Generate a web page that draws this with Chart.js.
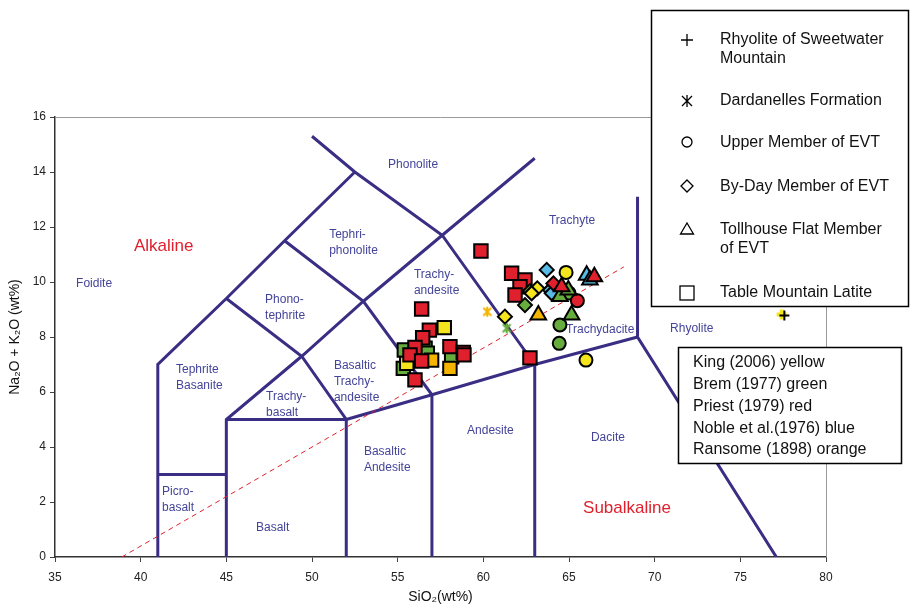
<!DOCTYPE html>
<html>
<head>
<meta charset="utf-8">
<script src="https://cdn.jsdelivr.net/npm/chart.js@4"></script>
<style>
html, body { margin: 0; padding: 0; background: #fff; }
</style>
</head>
<body>
<canvas id="tas" width="910" height="608"></canvas>
<script>
// TAS field boundaries (SiO2, Na2O+K2O)
const boundaries = [
	[[41, 0], [41, 7], [45, 9.4], [48.4, 11.5], [52.5, 14]],
	[[50, 15.3], [52.5, 14], [57.6, 11.7], [63, 7]],
	[[45, 0], [45, 5], [49.4, 7.3], [53, 9.3], [57.6, 11.7], [63, 14.5]],
	[[41, 3], [45, 3]],
	[[45, 5], [52, 5]],
	[[52, 0], [52, 5], [49.4, 7.3], [45, 9.4]],
	[[57, 0], [57, 5.9], [53, 9.3], [48.4, 11.5]],
	[[52, 5], [57, 5.9], [63, 7], [69, 8]],
	[[63, 0], [63, 7]],
	[[69, 13.1], [69, 8], [77.1, 0]]
];
const alkalineLine = [[38.9, 0], [68.2, 10.55]];

// Table Mountain Latite (squares)
const tmlRed = [[56.40, 9.02], [56.85, 8.25], [56.46, 7.97], [56.01, 7.62], [55.72, 7.35], [56.40, 7.13], [56.01, 6.44], [58.05, 7.65], [58.83, 7.44], [58.87, 7.35], [59.86, 11.13], [62.72, 7.24], [61.65, 10.32], [62.43, 10.07], [62.14, 9.83], [61.85, 9.53]];
const tmlYellow = [[57.72, 8.34], [55.53, 7.04]];
const tmlGreen = [[55.39, 7.53], [56.6, 7.59], [56.73, 7.41], [55.33, 6.86], [58.15, 7.28]];
const tmlOrange = [[56.98, 7.16], [58.05, 6.86]];
// By-Day Member (diamonds)
const bdYellow = [[61.26, 8.74], [63.15, 9.77], [62.82, 9.59]];
const bdGreen = [[62.72, 9.67], [62.43, 9.16]];
const bdBlue = [[63.70, 10.44], [63.89, 9.71], [63.99, 9.59]];
const bdRed = [[64.09, 9.95]];
// Upper Member (circles)
const umYellow = [[64.83, 10.35], [65.99, 7.16]];
const umGreen = [[65.0, 9.6], [64.47, 8.44], [64.43, 7.77]];
const umRed = [[65.49, 9.32]];
// Tollhouse Flat Member (triangles)
const tfOrange = [[63.21, 8.80]];
const tfGreen = [[64.47, 9.47], [64.96, 9.71], [65.15, 8.80]];
const tfBlue = [[66.03, 10.25], [66.22, 10.07]];
const tfRed = [[64.57, 9.83], [66.48, 10.19]];
// Dardanelles Formation and Rhyolite of Sweetwater Mountain
const ddOrange = [[60.23, 8.92]];
const ddGreen = [[61.36, 8.32]];
const rsmYellow = [[77.41, 8.82]];
const rsmBlack = [[77.57, 8.78]];

const fieldNames = [
	{ text: ["Phonolite"], x: 54.44, y: 14.25 },
	{ text: ["Tephri-", "phonolite"], x: 51.0, y: 11.44 },
	{ text: ["Trachy-", "andesite"], x: 55.95, y: 9.96 },
	{ text: ["Trachyte"], x: 63.83, y: 12.22 },
	{ text: ["Foidite"], x: 36.23, y: 9.93 },
	{ text: ["Phono-", "tephrite"], x: 47.26, y: 9.07 },
	{ text: ["Tephrite", "Basanite"], x: 42.06, y: 6.51 },
	{ text: ["Basaltic", "Trachy-", "andesite"], x: 51.28, y: 6.37 },
	{ text: ["Trachy-", "basalt"], x: 47.32, y: 5.53 },
	{ text: ["Trachydacite"], x: 64.83, y: 8.25 },
	{ text: ["Rhyolite"], x: 70.9, y: 8.29 },
	{ text: ["Dacite"], x: 66.28, y: 4.33 },
	{ text: ["Andesite"], x: 59.05, y: 4.58 },
	{ text: ["Basaltic", "Andesite"], x: 53.03, y: 3.53 },
	{ text: ["Picro-", "basalt"], x: 41.25, y: 2.09 },
	{ text: ["Basalt"], x: 46.73, y: 1.05 }
];
const seriesNames = ["Alkaline", "Subalkaline"];
const seriesNamePos = [[39.61, 11.31], [65.82, 1.78]];

const units = ["Rhyolite of Sweetwater|Mountain", "Dardanelles Formation", "Upper Member of EVT", "By-Day Member of EVT", "Tollhouse Flat Member|of EVT", "Table Mountain Latite"];
const sources = ["King (2006) yellow", "Brem (1977) green", "Priest (1979) red", "Noble et al.(1976) blue", "Ransome (1898) orange"];

const YELLOW = "#f4e51c", GREEN = "#66ad3d", RED = "#e0202c", BLUE = "#58bbe6", ORANGE = "#f5b400";
const LINE = "#3a2e84", LABEL = "#44449a";

function pts(arr) { return arr.map(p => ({ x: p[0], y: p[1] })); }

function asterisk(color) {
	const c = document.createElement("canvas");
	c.width = 12; c.height = 12;
	const g = c.getContext("2d");
	g.strokeStyle = color; g.lineWidth = 2;
	g.beginPath();
	g.moveTo(2, 2); g.lineTo(10, 10);
	g.moveTo(10, 2); g.lineTo(2, 10);
	g.moveTo(6, 1); g.lineTo(6, 11);
	g.stroke();
	return c;
}

const datasets = [];
boundaries.forEach(b => datasets.push({
	data: pts(b), showLine: true, pointRadius: 0, borderColor: LINE, borderWidth: 3, fill: false
}));
datasets.push({ data: pts(alkalineLine), showLine: true, pointRadius: 0, borderColor: "#e0202c", borderWidth: 1, borderDash: [5, 4] });

function marks(data, style, color, r) {
	datasets.push({ data: pts(data), pointStyle: style, pointRadius: r, pointBackgroundColor: color, pointBorderColor: "#000", pointBorderWidth: 2 });
}
marks(tmlGreen, "rect", GREEN, 9.5);
marks(tmlYellow, "rect", YELLOW, 9.5);
marks(tmlOrange, "rect", ORANGE, 9.5);
marks(tmlRed, "rect", RED, 9.5);
marks(bdGreen, "rectRot", GREEN, 7);
marks(bdYellow, "rectRot", YELLOW, 7);
marks(bdBlue, "rectRot", BLUE, 7);
marks(bdRed, "rectRot", RED, 7);
marks(umGreen, "circle", GREEN, 6.5);
marks(umYellow, "circle", YELLOW, 6.5);
marks(umRed, "circle", RED, 6.5);
marks(tfGreen, "triangle", GREEN, 9);
marks(tfOrange, "triangle", ORANGE, 9);
marks(tfBlue, "triangle", BLUE, 9);
marks(tfRed, "triangle", RED, 9);
datasets.push({ data: pts(ddOrange), pointStyle: asterisk(ORANGE) });
datasets.push({ data: pts(ddGreen), pointStyle: asterisk(GREEN) });
datasets.push({ data: pts(rsmYellow), pointStyle: "cross", pointRadius: 5, pointBorderColor: YELLOW, pointBorderWidth: 4 });
datasets.push({ data: pts(rsmBlack), pointStyle: "cross", pointRadius: 5, pointBorderColor: "#000", pointBorderWidth: 2 });
datasets.forEach((d, i) => { d.order = -i; });

const overlay = {
	id: "overlay",
	beforeDatasetsDraw(chart) {
		const { ctx, chartArea: a, scales } = chart;
		ctx.save();
		ctx.strokeStyle = "#9a9a9a"; ctx.lineWidth = 1;
		ctx.beginPath();
		ctx.moveTo(a.left, a.top + 0.5); ctx.lineTo(a.right + 0.5, a.top + 0.5); ctx.lineTo(a.right + 0.5, a.bottom);
		ctx.stroke();
		ctx.fillStyle = LABEL;
		ctx.font = "12px 'Liberation Sans', Arial, sans-serif";
		ctx.textAlign = "left"; ctx.textBaseline = "middle";
		fieldNames.forEach(f => {
			const px = scales.x.getPixelForValue(f.x), py = scales.y.getPixelForValue(f.y);
			const h = 16, y0 = py - (f.text.length - 1) * h / 2;
			f.text.forEach((t, i) => ctx.fillText(t, px, y0 + i * h));
		});
		ctx.fillStyle = RED;
		ctx.font = "17px 'Liberation Sans', Arial, sans-serif";
		seriesNames.forEach((t, i) => {
			ctx.fillText(t, scales.x.getPixelForValue(seriesNamePos[i][0]), scales.y.getPixelForValue(seriesNamePos[i][1]));
		});
		ctx.restore();
	},
	afterDraw(chart) {
		const ctx = chart.ctx;
		ctx.save();
		// key to unit symbols
		ctx.fillStyle = "#fff"; ctx.fillRect(651, 10, 258, 297);
		ctx.strokeStyle = "#000"; ctx.lineWidth = 1.5;
		ctx.strokeRect(651.5, 10.5, 257, 296);
		ctx.fillStyle = "#111";
		ctx.font = "16px 'Liberation Sans', Arial, sans-serif";
		ctx.textAlign = "left"; ctx.textBaseline = "middle";
		const rows = [40, 101, 143, 187, 230, 293];
		units.forEach((u, i) => {
			u.split("|").forEach((t, k) => ctx.fillText(t, 720, rows[i] + k * 19));
		});
		ctx.lineWidth = 1.3;
		const sx = 687;
		ctx.beginPath();
		ctx.moveTo(sx - 6, 40); ctx.lineTo(sx + 6, 40); ctx.moveTo(sx, 34); ctx.lineTo(sx, 46);
		ctx.moveTo(sx - 5, 96); ctx.lineTo(sx + 5, 106); ctx.moveTo(sx + 5, 96); ctx.lineTo(sx - 5, 106);
		ctx.moveTo(sx, 95); ctx.lineTo(sx, 107);
		ctx.stroke();
		ctx.beginPath(); ctx.arc(sx, 142, 5, 0, Math.PI * 2); ctx.stroke();
		ctx.beginPath();
		ctx.moveTo(sx, 180); ctx.lineTo(sx + 6, 186); ctx.lineTo(sx, 192); ctx.lineTo(sx - 6, 186); ctx.closePath();
		ctx.stroke();
		ctx.beginPath();
		ctx.moveTo(sx, 223); ctx.lineTo(sx + 6.5, 234); ctx.lineTo(sx - 6.5, 234); ctx.closePath();
		ctx.stroke();
		ctx.strokeRect(sx - 7, 286, 14, 14);
		// key to data sources
		ctx.fillStyle = "#fff"; ctx.fillRect(678, 347, 224, 117);
		ctx.lineWidth = 1.5; ctx.strokeRect(678.5, 347.5, 223, 116);
		ctx.fillStyle = "#111";
		sources.forEach((s, i) => ctx.fillText(s, 693, 363 + i * 21.7));
		ctx.restore();
	}
};

new Chart(document.getElementById("tas"), {
	type: "scatter",
	data: { datasets: datasets },
	options: {
		responsive: false,
		animation: false,
		layout: { padding: { top: 117, right: 84, left: 0, bottom: 0 } },
		plugins: { legend: { display: false }, tooltip: { enabled: false } },
		scales: {
			x: {
				type: "linear", min: 35, max: 80,
				ticks: { stepSize: 5, color: "#222", font: { size: 12, family: "'Liberation Sans', Arial" }, padding: 8 },
				grid: { drawOnChartArea: false, tickLength: 5, color: "#444" },
				border: { color: "#333", width: 1.5 },
				title: { display: true, text: "SiO\u2082(wt%)", color: "#111", font: { size: 14, family: "'Liberation Sans', Arial" }, padding: { top: 3, bottom: 2 } },
				afterFit(s) { s.height = 51; }
			},
			y: {
				type: "linear", min: 0, max: 16,
				ticks: { stepSize: 2, color: "#222", font: { size: 12, family: "'Liberation Sans', Arial" }, padding: 4 },
				grid: { drawOnChartArea: false, tickLength: 5, color: "#444" },
				border: { color: "#333", width: 1.5 },
				title: { display: true, text: "Na\u2082O + K\u2082O (wt%)", color: "#111", font: { size: 14, family: "'Liberation Sans', Arial" }, padding: { top: 7, bottom: 2 } },
				afterFit(s) { s.width = 55; }
			}
		}
	},
	plugins: [overlay]
});
</script>
</body>
</html>
